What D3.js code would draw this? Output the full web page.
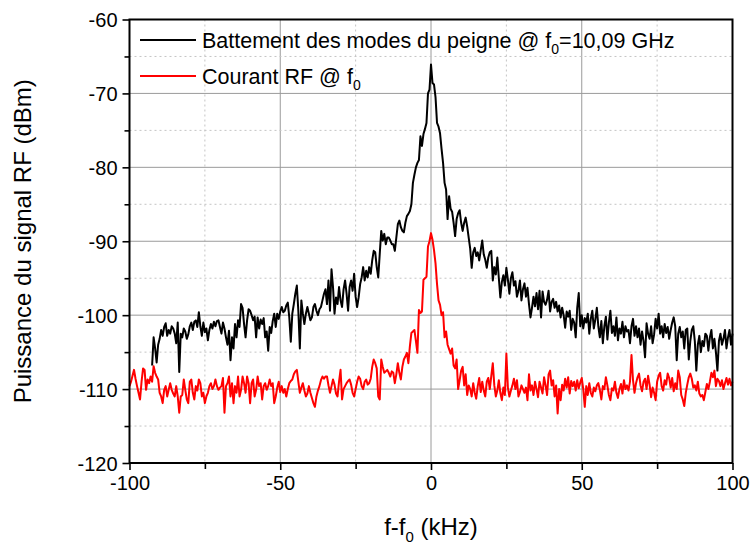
<!DOCTYPE html>
<html><head><meta charset="utf-8">
<script src="https://cdn.jsdelivr.net/npm/d3@7"></script>
<style>
html,body{margin:0;padding:0;background:#fff;}
text{font-family:"Liberation Sans",Arial,sans-serif;}
</style></head>
<body><svg id="chart" width="752" height="545"></svg>
<script>
// ---- data ----
const xStep = 0.5;
const blackStart = -92.5;
const blackValues = [
-106.8,-103.0,-104.5,-106.4,-104.0,-103.2,
-102.0,-102.8,-101.6,-101.1,-102.8,-102.0,-102.5,-101.5,-101.8,-102.5,
-103.8,-101.0,-107.7,-102.5,-103.0,-101.8,-102.2,-103.2,-102.6,-101.5,
-101.0,-102.0,-100.9,-100.7,-101.6,-99.6,-101.5,-102.8,-101.0,-102.3,
-101.8,-103.4,-102.0,-101.2,-101.8,-100.9,-101.5,-100.8,-100.7,-101.6,
-102.5,-101.0,-101.8,-103.0,-104.0,-102.1,-106.1,-103.0,-104.5,-101.2,
-103.0,-100.7,-101.6,-98.5,-99.0,-101.2,-103.0,-100.7,-99.2,-99.4,
-100.0,-100.7,-100.2,-103.0,-100.3,-101.8,-100.6,-101.2,-100.4,-103.0,
-102.2,-104.8,-101.6,-102.4,-100.8,-99.8,-101.6,-99.8,-100.5,-99.5,
-98.9,-99.6,-99.4,-98.7,-98.3,-100.3,-103.6,-99.8,-98.5,-97.1,
-96.0,-99.4,-104.5,-98.0,-99.8,-101.2,-99.8,-98.9,-99.8,-100.7,
-100.3,-98.9,-98.5,-99.4,-100.0,-99.2,-98.9,-98.0,-97.1,-96.5,
-98.5,-95.3,-99.4,-93.8,-96.2,-99.8,-97.6,-98.5,-96.2,-98.0,
-98.9,-96.5,-95.3,-97.1,-99.4,-96.2,-95.3,-96.7,-94.4,-97.5,
-98.9,-97.6,-95.8,-94.9,-93.5,-95.3,-94.0,-94.9,-93.5,-94.4,
-92.6,-91.3,-91.5,-93.5,-94.9,-91.7,-88.6,-89.9,-89.0,-90.4,
-89.5,-89.5,-89.9,-90.4,-90.4,-91.3,-89.5,-87.7,-87.2,-88.1,
-88.6,-88.8,-87.5,-86.6,-86.3,-85.9,-85.0,-82.1,-81.0,-80.0,
-79.4,-79.0,-75.8,-77.1,-75.5,-74.8,-74.0,-70.0,-69.5,-66.1,
-68.6,-68.8,-70.5,-74.0,-74.5,-75.4,-77.5,-79.4,-82.1,-83.0,
-87.0,-83.9,-85.6,-86.0,-87.5,-89.3,-87.0,-86.2,-85.8,-87.5,
-88.6,-87.5,-86.8,-88.0,-89.5,-91.0,-93.6,-91.5,-90.9,-92.0,
-91.5,-92.6,-91.2,-89.9,-91.8,-92.5,-93.6,-92.2,-91.5,-91.3,
-95.3,-93.5,-94.5,-92.2,-95.0,-97.6,-95.5,-94.6,-96.0,-93.6,
-95.2,-97.1,-95.0,-94.2,-96.0,-95.4,-97.5,-96.7,-95.3,-98.0,
-96.5,-95.7,-97.5,-96.3,-98.5,-100.3,-99.0,-97.5,-98.8,-97.0,
-99.2,-96.7,-100.3,-96.8,-98.2,-98.6,-97.9,-96.7,-99.5,-98.2,
-97.8,-99.0,-98.2,-99.5,-98.7,-100.3,-99.0,-100.0,-101.7,-99.5,
-100.2,-99.4,-102.0,-100.5,-101.0,-103.0,-99.0,-97.0,-101.5,-100.0,
-101.8,-100.4,-101.0,-99.8,-102.5,-100.5,-99.4,-101.8,-100.6,-99.0,
-101.5,-103.0,-100.8,-103.8,-101.5,-100.2,-103.3,-101.0,-99.4,-102.4,
-101.5,-102.8,-100.3,-103.4,-101.8,-102.5,-100.9,-103.0,-101.5,-102.2,
-102.0,-103.8,-101.5,-100.5,-102.8,-101.5,-103.0,-101.8,-104.0,-102.2,
-103.5,-105.7,-101.1,-102.5,-103.2,-101.5,-103.8,-102.6,-100.5,-101.8,
-99.8,-102.5,-101.5,-103.0,-101.2,-102.4,-101.6,-103.2,-102.0,-101.0,
-100.3,-101.5,-106.1,-102.5,-101.6,-103.0,-102.2,-104.5,-102.0,-101.8,
-106.0,-103.5,-102.0,-101.5,-103.5,-107.5,-104.0,-102.8,-105.0,-103.5,
-104.2,-102.5,-102.8,-104.8,-103.0,-102.0,-104.5,-103.2,-105.0,-107.5,
-103.5,-102.5,-104.0,-103.2,-102.0,-104.5,-103.0,-102.0,-104.0,-102.5
];
const redStart = -100;
const redValues = [
-109.6,
-109.0,-108.2,-107.4,-108.6,-109.6,-110.5,-111.4,-109.0,-107.2,-107.4,
-110.1,-108.7,-109.2,-108.3,-109.0,-106.9,-107.8,-108.3,-108.7,-110.5,
-111.0,-111.9,-110.1,-109.6,-111.0,-110.1,-109.2,-110.1,-110.6,-111.0,
-109.6,-111.0,-113.2,-111.0,-110.8,-108.7,-110.1,-111.4,-111.9,-109.0,
-108.7,-110.5,-111.4,-109.6,-110.2,-108.7,-109.2,-111.0,-110.5,-111.9,
-111.0,-110.5,-109.6,-109.2,-110.0,-109.6,-108.7,-109.6,-110.1,-109.8,
-109.6,-108.5,-113.2,-109.6,-109.2,-108.3,-111.0,-109.2,-111.9,-109.6,
-110.5,-108.3,-111.0,-110.1,-108.3,-109.2,-110.5,-108.3,-109.2,-111.9,
-109.2,-108.7,-111.0,-110.1,-108.3,-109.6,-109.2,-111.4,-109.6,-109.2,
-110.1,-109.6,-108.7,-109.6,-109.2,-111.9,-111.0,-109.8,-109.0,-110.4,
-109.6,-110.5,-110.0,-111.0,-110.0,-109.2,-108.9,-108.7,-108.0,-107.6,
-107.4,-109.0,-110.5,-109.8,-109.2,-110.2,-111.0,-110.6,-109.6,-110.5,
-111.2,-111.9,-112.4,-111.0,-110.2,-109.6,-108.8,-108.3,-108.6,-108.3,
-108.3,-109.5,-110.5,-109.6,-108.7,-109.4,-110.6,-111.0,-109.0,-107.4,
-111.4,-110.0,-109.6,-109.2,-108.9,-108.7,-109.4,-110.5,-111.0,-110.0,
-109.0,-108.3,-108.6,-109.6,-110.0,-109.0,-108.7,-109.4,-109.2,-108.6,
-107.0,-106.0,-106.5,-107.2,-111.0,-111.4,-106.0,-107.0,-107.8,-107.6,
-107.4,-107.8,-108.3,-107.6,-107.8,-109.2,-108.0,-106.5,-107.8,-108.7,
-107.0,-106.0,-105.6,-105.1,-106.5,-104.2,-102.4,-102.2,-102.0,-103.5,
-105.1,-99.3,-99.7,-99.5,-95.2,-95.0,-94.8,-90.7,-90.0,-88.9,
-89.8,-91.2,-93.0,-95.8,-98.0,-98.6,-100.0,-99.6,-103.0,-102.2,
-104.0,-104.6,-105.2,-104.5,-106.8,-107.2,-106.0,-110.0,-108.8,-107.5,
-107.0,-109.5,-108.0,-110.8,-109.5,-110.0,-111.0,-109.2,-110.5,-111.3,
-109.6,-108.5,-110.4,-109.0,-110.2,-111.0,-109.0,-108.5,-110.0,-108.2,
-106.5,-109.5,-111.0,-110.2,-108.8,-110.5,-111.5,-109.8,-110.8,-105.2,
-109.8,-111.0,-110.2,-109.5,-108.6,-110.0,-108.8,-111.0,-110.4,-109.5,
-110.0,-110.5,-109.8,-111.5,-108.0,-110.2,-109.5,-110.8,-109.0,-110.0,
-111.1,-109.0,-109.8,-110.6,-108.4,-109.5,-110.8,-108.0,-107.5,-109.5,
-108.8,-111.0,-109.5,-113.3,-110.0,-111.5,-109.4,-110.2,-108.6,-109.8,
-108.4,-110.6,-108.9,-109.6,-109.0,-110.2,-108.8,-109.9,-109.1,-108.5,
-110.0,-112.4,-109.6,-110.8,-109.2,-110.5,-111.0,-109.8,-110.3,-109.5,
-109.2,-110.1,-111.4,-109.6,-110.0,-108.4,-109.5,-110.8,-111.5,-109.9,
-110.2,-109.0,-110.5,-111.2,-110.0,-109.3,-110.6,-108.8,-110.0,-109.5,
-110.2,-109.0,-105.4,-108.8,-110.5,-109.2,-108.4,-107.9,-109.5,-110.3,
-109.0,-108.6,-110.0,-108.2,-109.4,-111.1,-109.8,-110.5,-111.5,-109.0,
-108.2,-107.8,-109.6,-110.2,-108.8,-109.4,-107.9,-108.5,-109.8,-108.5,
-110.3,-109.2,-110.0,-107.5,-108.4,-110.8,-111.4,-112.3,-110.5,-109.4,
-108.4,-107.9,-108.6,-109.8,-109.5,-110.2,-109.0,-110.6,-111.0,-110.8,
-111.5,-110.4,-109.3,-110.0,-109.0,-107.8,-108.4,-107.5,-109.6,-108.6,
-108.9,-109.6,-108.8,-110.0,-109.2,-108.5,-109.4,-108.6,-109.5,-109.0
];
const xTicks = [-100,-50,0,50,100];
const xMinor = [-75,-25,25,75];
const yTicks = [-120,-110,-100,-90,-80,-70,-60];
const yMinor = [-115,-105,-95,-85,-75,-65];
const seriesNames = ["Battement des modes du peigne @ f", "Courant RF @ f"];
const seriesColors = ["#000000","#ff0000"];

// ---- chart ----
const svg = d3.select("#chart");
const L = 129.5, R = 732.5, T = 19.5, B = 463;
const x = d3.scaleLinear().domain([-100,100]).range([L,R]);
const y = d3.scaleLinear().domain([-120,-60]).range([B,T]);

const grid = svg.append("g");
grid.selectAll(".vmaj").data(xTicks.slice(1,-1)).join("line")
  .attr("x1",d=>x(d)).attr("x2",d=>x(d)).attr("y1",T).attr("y2",B)
  .attr("stroke","#9a9a9a").attr("stroke-width",1);
grid.selectAll(".vmin").data(xMinor).join("line")
  .attr("x1",d=>x(d)).attr("x2",d=>x(d)).attr("y1",T).attr("y2",B)
  .attr("stroke","#c4c4c4").attr("stroke-width",1).attr("stroke-dasharray","2,3");
grid.selectAll(".hmaj").data(yTicks.slice(1,-1)).join("line")
  .attr("y1",d=>y(d)).attr("y2",d=>y(d)).attr("x1",L).attr("x2",R)
  .attr("stroke","#9a9a9a").attr("stroke-width",1);
grid.selectAll(".hmin").data(yMinor).join("line")
  .attr("y1",d=>y(d)).attr("y2",d=>y(d)).attr("x1",L).attr("x2",R)
  .attr("stroke","#c4c4c4").attr("stroke-width",1).attr("stroke-dasharray","2,3");

const blackData = blackValues.map((v,i)=>[blackStart+i*xStep, v]);
const redData = redValues.map((v,i)=>[redStart+i*xStep, v]);
const line = d3.line().x(d=>x(d[0])).y(d=>y(d[1]));
svg.append("path").datum(redData).attr("d",line)
  .attr("fill","none").attr("stroke",seriesColors[1]).attr("stroke-width",2).attr("stroke-linejoin","round");
svg.append("path").datum(blackData).attr("d",line)
  .attr("fill","none").attr("stroke",seriesColors[0]).attr("stroke-width",2).attr("stroke-linejoin","round");

// axes
const fs = 20;
const fmt = d => String(d);
const xAxis = d3.axisBottom(x).tickValues(xTicks).tickSize(7).tickPadding(6).tickFormat(fmt);
const gx = svg.append("g").attr("transform",`translate(0,${B})`).call(xAxis);
const xAxisMin = d3.axisBottom(x).tickValues(xMinor).tickSize(6).tickFormat("");
const gxm = svg.append("g").attr("transform",`translate(0,${B})`).call(xAxisMin);
const yAxis = d3.axisLeft(y).tickValues(yTicks).tickSize(7).tickPadding(5).tickFormat(fmt);
const gy = svg.append("g").attr("transform",`translate(${L},0)`).call(yAxis);
const yAxisMin = d3.axisLeft(y).tickValues(yMinor).tickSize(5).tickFormat("");
const gym = svg.append("g").attr("transform",`translate(${L},0)`).call(yAxisMin);
[gx,gxm,gy,gym].forEach(g=>{
  g.select(".domain").remove();
  g.selectAll(".tick line").attr("stroke","#000").attr("stroke-width",1.6);
  g.selectAll("text").attr("fill","#000").style("font-size",fs+"px").style("font-family","'Liberation Sans',Arial,sans-serif");
});
gy.selectAll("text").attr("dy","0.35em");

// frame
svg.append("rect").attr("x",L).attr("y",T).attr("width",R-L).attr("height",B-T)
  .attr("fill","none").attr("stroke","#000").attr("stroke-width",2);

// axis titles
svg.append("text").attr("transform",`translate(31,${(T+B)/2}) rotate(-90)`)
  .attr("text-anchor","middle").style("font-size","24px").attr("fill","#000")
  .text("Puissance du signal RF (dBm)");
const xt = svg.append("text").attr("x",(L+R)/2).attr("y",535).attr("text-anchor","middle")
  .style("font-size","24px").attr("fill","#000");
xt.append("tspan").text("f-f");
xt.append("tspan").attr("dy",7).style("font-size","15px").text("0");
xt.append("tspan").attr("dy",-7).text(" (kHz)");

// legend
const legY = [40, 76];
const legSuffix = ["=10,09 GHz", ""];
legY.forEach((ly,i)=>{
  svg.append("line").attr("x1",140).attr("x2",196).attr("y1",ly).attr("y2",ly)
    .attr("stroke",seriesColors[i]).attr("stroke-width",2);
  const t = svg.append("text").attr("x",202).attr("y",ly+8).style("font-size","21.5px").attr("fill","#000");
  t.append("tspan").text(seriesNames[i]);
  t.append("tspan").attr("dy",6).style("font-size","14px").text("0");
  if (legSuffix[i]) t.append("tspan").attr("dy",-6).text(legSuffix[i]);
});
</script>
</body></html>
